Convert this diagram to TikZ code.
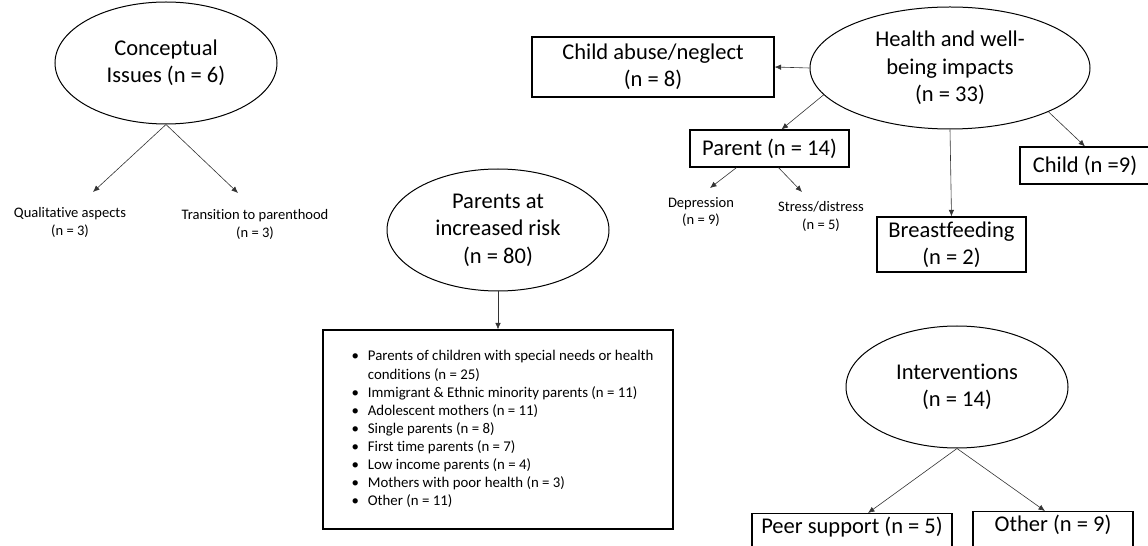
\documentclass[tikz,border=0pt]{standalone}
\usepackage{fontspec}
\setmainfont{Carlito}[Ligatures=NoCommon]
\usetikzlibrary{shapes.geometric,arrows.meta}
\begin{document}
\begin{tikzpicture}[x=1bp,y=-1bp,
  big/.style={font=\fontsize{22.6}{27.5}\selectfont, align=center},
  small/.style={font=\fontsize{14.6}{18}\selectfont, align=center, inner sep=0pt},
  oval/.style={ellipse, draw=black, line width=1bp, inner sep=0pt, big},
  boxnode/.style={rectangle, draw=black, line width=1.2bp, big},
  conn/.style={draw=black!80, line width=0.6bp, -{Latex[length=6.5bp,width=5.5bp]}}
]
\useasboundingbox (0,0) rectangle (1148,546);
\clip (0,0) rectangle (1148,546);

% Conceptual issues
\node[oval, minimum width=222bp, minimum height=122bp] (conc) at (166,63) {Conceptual\\Issues (n = 6)};
\node[small] (qa) at (70,222) {Qualitative aspects\\(n = 3)};
\node[small] (tp) at (255,224) {Transition to parenthood\\(n = 3)};
\coordinate (qaT) at (93,192);
\coordinate (tpT) at (238,193);
\draw[conn] (conc.south) -- (qaT);
\draw[conn] (conc.south) -- (tpT);

% Health and well-being
\node[oval, minimum width=280bp, minimum height=122bp] (health) at (950,68) {Health and well-\\being impacts\\(n = 33)};
\node[boxnode, minimum width=242bp, minimum height=60bp, inner sep=0pt] (cab) at (653,67) {Child abuse/neglect\\(n = 8)};
\node[boxnode, minimum width=159bp, minimum height=37bp, inner sep=0pt] (parent) at (769.5,148.5) {Parent (n = 14)};
\node[boxnode, minimum width=149bp, minimum height=55bp, inner sep=0pt] (bf) at (951.5,244.5) {Breastfeeding\\(n = 2)};
\node[boxnode, minimum width=130bp, minimum height=37bp, inner sep=0pt] (child) at (1085,165.5) {Child (n =9)};
\node[small] (dep) at (701,212) {Depression\\(n = 9)};
\node[small] (str) at (821,216) {Stress/distress\\(n = 5)};
\coordinate (depT) at (710,188);
\coordinate (strT) at (802,192);
\draw[conn] (health.west) -- (cab.east);
\draw[conn] (health.192) -- ([xshift=12bp]parent.north);
\draw[conn] (health.south) -- (bf.north);
\draw[conn] (health.-24) -- (child.north);
\draw[conn] ([xshift=-33bp]parent.south) -- (depT);
\draw[conn] ([xshift=9bp]parent.south) -- (strT);

% Parents at increased risk
\node[oval, minimum width=222bp, minimum height=122bp] (risk) at (498,230) {Parents at\\increased risk\\(n = 80)};
\node[boxnode, minimum width=350bp, minimum height=199bp, inner sep=0pt, font=\fontsize{14.9}{18.1}\selectfont] (list) at (498,429.5) {%
\begin{tabular}{@{\hspace{9bp}}l@{\hspace{9bp}}l@{}}
\textbullet & Parents of children with special needs or health\\
 & conditions (n = 25)\\
\textbullet & Immigrant \& Ethnic minority parents (n = 11)\\
\textbullet & Adolescent mothers (n = 11)\\
\textbullet & Single parents (n = 8)\\
\textbullet & First time parents (n = 7)\\
\textbullet & Low income parents (n = 4)\\
\textbullet & Mothers with poor health (n = 3)\\
\textbullet & Other (n = 11)
\end{tabular}};
\draw[conn] (risk.south) -- (list.north);

% Interventions
\node[oval, minimum width=222bp, minimum height=122bp] (int) at (957,387) {Interventions\\(n = 14)};
\node[boxnode, anchor=north, minimum width=200bp, inner xsep=0pt, inner ysep=4bp, text height=16bp, text depth=30bp] (peer) at (852,513) {Peer support (n = 5)};
\node[boxnode, anchor=north, minimum width=160bp, inner xsep=0pt, inner ysep=4bp, text height=16bp, text depth=30bp] (other) at (1053,511) {Other (n = 9)};
\draw[conn] (int.south) -- ([xshift=16bp]peer.north);
\draw[conn] (int.south) -- ([xshift=-8bp]other.north);
\end{tikzpicture}
\end{document}
